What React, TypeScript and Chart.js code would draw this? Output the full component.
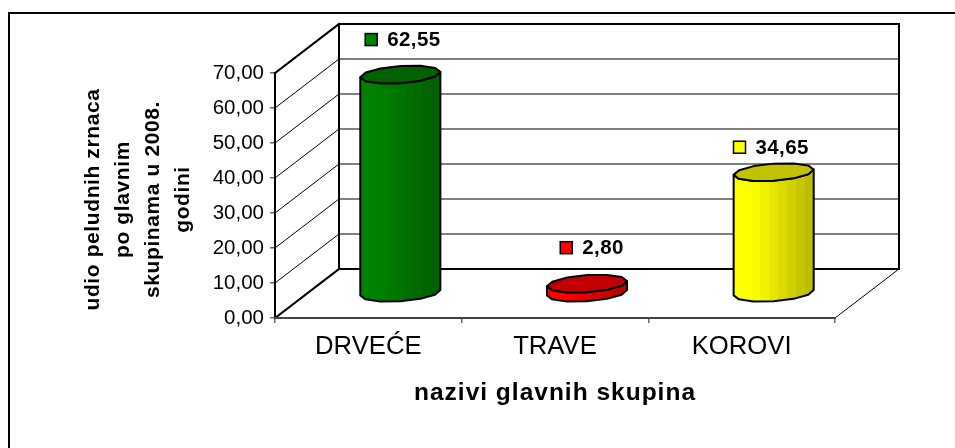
import React, { useEffect, useRef } from "react";
import { Chart, registerables } from "chart.js";

Chart.register(...registerables);

const categories = ["DRVEĆE", "TRAVE", "KOROVI"];
const values = [62.55, 2.8, 34.65];
const valueLabels = ["62,55", "2,80", "34,65"];
const sideColors = [[0, 128, 0], [255, 0, 0], [255, 255, 0]];
const yTitle = ["udio peludnih zrnaca", "po glavnim", "skupinama u 2008.", "godini"];
const xTitle = "nazivi glavnih skupina";
const FONT = "'Liberation Sans', Arial, sans-serif";

const DEPTH_X = 64;
const DEPTH_Y = 49;
const labelLift = [35, 36, 25];
const labelShift = [2.5, 5, -2.5];

function rgb(c: number[], k: number) {
  return `rgb(${Math.round(c[0] * k)},${Math.round(c[1] * k)},${Math.round(c[2] * k)})`;
}

function line(ctx: CanvasRenderingContext2D, x1: number, y1: number, x2: number, y2: number, w: number, color: string) {
  ctx.save();
  ctx.beginPath();
  ctx.moveTo(x1, y1);
  ctx.lineTo(x2, y2);
  ctx.lineWidth = w;
  ctx.strokeStyle = color;
  ctx.lineCap = "square";
  ctx.stroke();
  ctx.restore();
}

const FACETS = 12;
function ring(cx: number, cy: number, rx: number, vx: number, vy: number) {
  const pts: { x: number; y: number; a: number }[] = [];
  for (let i = 0; i < FACETS; i++) {
    const a = (i / FACETS) * Math.PI * 2 + 0.3;
    pts.push({
      x: cx + rx * Math.cos(a) + vx * Math.sin(a),
      y: cy - vy * Math.sin(a),
      a,
    });
  }
  return pts;
}

function trace(ctx: CanvasRenderingContext2D, pts: { x: number; y: number }[]) {
  ctx.beginPath();
  pts.forEach((p, i) => (i ? ctx.lineTo(p.x, p.y) : ctx.moveTo(p.x, p.y)));
  ctx.closePath();
}

function spacedTitle(scale: any, spacing: string) {
  if (scale.__spaced) return;
  scale.__spaced = true;
  const draw = scale.drawTitle;
  scale.drawTitle = function (...args: any[]) {
    this.ctx.letterSpacing = spacing;
    draw.apply(this, args);
    this.ctx.letterSpacing = "0px";
  };
}

const plot3d = {
  id: "plot3d",
  afterLayout(chart: any) {
    // the vertical axis title sits slightly below the centre of the axis
    chart.scales.y.top += 4;
    chart.scales.y.bottom += 4;
    spacedTitle(chart.scales.x, "1px");
    spacedTitle(chart.scales.y, "0.6px");
  },
  beforeDatasetsDraw(chart: any) {
    const { ctx, scales } = chart;
    const x = scales.x;
    const y = scales.y;
    const L = x.left;
    const R = x.right;
    const y0 = y.getPixelForValue(0);
    const yMax = y.getPixelForValue(70);
    // back wall gridlines and side-wall lines
    for (let v = 10; v < 70; v += 10) {
      const p = y.getPixelForValue(v);
      line(ctx, L + DEPTH_X, p - DEPTH_Y, R + DEPTH_X, p - DEPTH_Y, 2, "#808080");
      line(ctx, L, p, L + DEPTH_X, p - DEPTH_Y, 1, "#000");
    }
    line(ctx, L + DEPTH_X, yMax - DEPTH_Y, R + DEPTH_X, yMax - DEPTH_Y, 2, "#000");
    line(ctx, L + DEPTH_X, yMax - DEPTH_Y, L + DEPTH_X, y0 - DEPTH_Y, 2, "#000");
    line(ctx, R + DEPTH_X, yMax - DEPTH_Y, R + DEPTH_X, y0 - DEPTH_Y, 2, "#000");
    line(ctx, L + DEPTH_X, y0 - DEPTH_Y, R + DEPTH_X, y0 - DEPTH_Y, 2, "#000");
    line(ctx, L, yMax, L + DEPTH_X, yMax - DEPTH_Y, 2, "#000");
    line(ctx, L, y0, L + DEPTH_X, y0 - DEPTH_Y, 2, "#000");
    line(ctx, R, y0, R + DEPTH_X, y0 - DEPTH_Y, 1, "#000");
    line(ctx, L, yMax, L, y0, 2, "#000");
    line(ctx, L, y0, R, y0, 2, "#444");

    // cylinders
    const meta = chart.getDatasetMeta(0);
    meta.data.forEach((bar: any, i: number) => {
      const col = sideColors[i];
      const cx = bar.x + DEPTH_X / 2;
      const top = bar.y - DEPTH_Y / 2;
      const base = bar.base - DEPTH_Y / 2;
      const topRing = ring(cx, top, 38.2, 12, 9);
      const baseRing = ring(cx, base, 38.2, 12, 9);
      const lo = cx - 40;
      const strips = 9;
      const edge = (px: number, pts: { x: number; y: number }[]) => {
        let yy = -Infinity;
        pts.forEach((p, j) => {
          const q = pts[(j + 1) % pts.length];
          if ((p.x - px) * (q.x - px) <= 0 && p.x !== q.x) {
            const t = (px - p.x) / (q.x - p.x);
            yy = Math.max(yy, p.y + (q.y - p.y) * t);
          }
        });
        return yy;
      };
      const leftP = baseRing.reduce((a, b) => (b.x < a.x ? b : a));
      const rightP = baseRing.reduce((a, b) => (b.x > a.x ? b : a));
      const leftT = topRing.reduce((a, b) => (b.x < a.x ? b : a));
      const rightT = topRing.reduce((a, b) => (b.x > a.x ? b : a));
      const side: { x: number; y: number }[] = [];
      const low = baseRing.filter((p) => edge(p.x, baseRing) - p.y < 0.01);
      low.sort((a, b) => a.x - b.x);
      side.push(leftT, leftP, ...low, rightP, rightT);
      const upLow = topRing.filter((p) => edge(p.x, topRing) - p.y < 0.01).sort((a, b) => b.x - a.x);
      side.push(...upLow);

      ctx.save();
      trace(ctx, side);
      ctx.save();
      ctx.clip();
      for (let s = 0; s < strips; s++) {
        const f = s / (strips - 1);
        const k = f < 0.2 ? 1 : 1 - 0.26 * ((f - 0.2) / 0.8);
        ctx.fillStyle = rgb(col, k);
        const a = lo + (s * 80) / strips;
        ctx.fillRect(a, top - 20, 80 / strips + 1, base - top + 50);
      }
      ctx.restore();
      trace(ctx, side);
      ctx.lineWidth = 2;
      ctx.lineJoin = "round";
      ctx.strokeStyle = "#000";
      ctx.stroke();
      trace(ctx, topRing);
      ctx.fillStyle = rgb(col, 0.76);
      ctx.fill();
      ctx.stroke();
      ctx.restore();

      // data label with legend key
      const ly = top - labelLift[i];
      ctx.save();
      ctx.font = `bold 20.5px ${FONT}`;
      (ctx as any).letterSpacing = "0.4px";
      const tw = ctx.measureText(valueLabels[i]).width;
      const start = cx + labelShift[i] - (tw + 22) / 2;
      ctx.fillStyle = rgb(col, 1);
      ctx.fillRect(start, ly - 6, 12, 12);
      ctx.lineWidth = 1.5;
      ctx.strokeStyle = "#000";
      ctx.strokeRect(start, ly - 6, 12, 12);
      ctx.fillStyle = "#000";
      ctx.textAlign = "left";
      ctx.textBaseline = "middle";
      ctx.fillText(valueLabels[i], start + 22, ly + 1);
      (ctx as any).letterSpacing = "0px";
      ctx.restore();
    });
  },
  afterDraw(chart: any) {
    const { ctx } = chart;
    // the frame is cut off at the right and bottom edges of the picture
    line(ctx, 9, 13, 955, 13, 2, "#000");
    line(ctx, 9, 13, 9, 448, 2, "#000");
  },
};

export default function App() {
  const ref = useRef<HTMLCanvasElement>(null);
  useEffect(() => {
    document.body.style.margin = "0";
    const chart = new Chart(ref.current!, {
      type: "bar",
      data: {
        labels: categories,
        datasets: [
          {
            label: "udio",
            data: values,
            backgroundColor: "rgba(0,0,0,0)",
            borderWidth: 0,
            barPercentage: 0.55,
            categoryPercentage: 1,
          },
        ],
      },
      options: {
        responsive: false,
        animation: false,
        layout: { padding: { left: 76, top: 73, right: 120, bottom: 40 } },
        plugins: { legend: { display: false }, tooltip: { enabled: false } },
        scales: {
          x: {
            afterFit: (s: any) => { s.height = 90; },
            grid: { display: true, drawOnChartArea: false, drawTicks: true, tickLength: 5, color: "#666", lineWidth: 1.5 },
            border: { display: false },
            ticks: { color: "#000", font: { family: FONT, size: 25.7 }, padding: 8, maxRotation: 0 },
            title: {
              display: true,
              text: xTitle,
              color: "#000",
              font: { family: FONT, size: 24.5, weight: "bold" },
              padding: { top: 14, bottom: 0 },
            },
          },
          y: {
            min: 0,
            max: 70,
            afterFit: (s: any) => { s.width = 199; },
            afterBuildTicks: (s: any) => { s.ticks = [0, 10, 20, 30, 40, 50, 60, 70].map((value) => ({ value })); },
            grid: { display: true, drawOnChartArea: false, drawTicks: true, tickLength: 5, color: "#666", lineWidth: 1.5 },
            border: { display: false },
            ticks: {
              color: "#000",
              font: { family: FONT, size: 20.5 },
              padding: 6,
              callback: (v: any) => Number(v).toFixed(2).replace(".", ","),
            },
            title: {
              display: true,
              text: yTitle,
              color: "#000",
              font: { family: FONT, size: 21, weight: "bold", lineHeight: "30px" },
              padding: { top: 2, bottom: 0 },
            },
          },
        },
      },
      plugins: [plot3d],
    } as any);
    return () => chart.destroy();
  }, []);
  return <canvas ref={ref} width={955} height={448} style={{ display: "block", background: "#fff" }} />;
}
